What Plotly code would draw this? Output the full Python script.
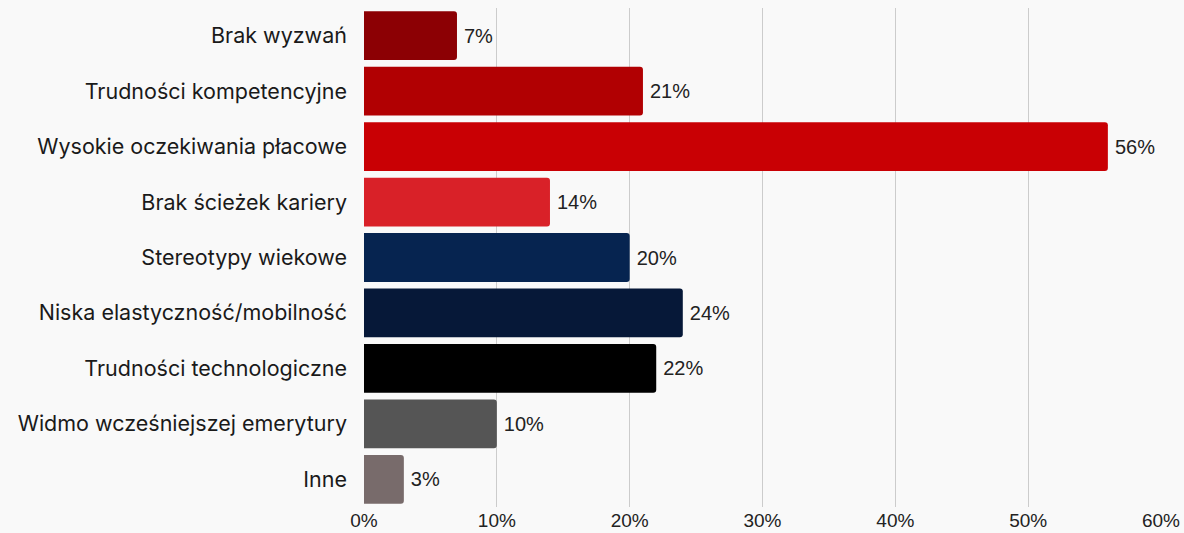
import plotly.graph_objects as go

categories = [
    "Brak wyzwań",
    "Trudności kompetencyjne",
    "Wysokie oczekiwania płacowe",
    "Brak ścieżek kariery",
    "Stereotypy wiekowe",
    "Niska elastyczność/mobilność",
    "Trudności technologiczne",
    "Widmo wcześniejszej emerytury",
    "Inne",
]
values = [7, 21, 56, 14, 20, 24, 22, 10, 3]
colors = [
    "#8c0004", "#b10002", "#c90004", "#d92128", "#062450",
    "#061838", "#000000", "#555555", "#786b6b",
]
tick_vals = [0, 10, 20, 30, 40, 50, 60]
tick_text = [f"{v}%" for v in tick_vals]

fig = go.Figure(
    go.Bar(
        x=values,
        y=categories,
        orientation="h",
        marker=dict(color=colors, line=dict(width=0)),
        text=[f"\u2009{v}%" for v in values],
        textposition="outside",
        cliponaxis=False,
        textfont=dict(family="Liberation Sans, Arial, sans-serif", size=20, color="#222222"),
    )
)

fig.update_layout(
    width=1184,
    height=533,
    margin=dict(l=364, r=23, t=8, b=26),
    paper_bgcolor="#f9f9f9",
    plot_bgcolor="#f9f9f9",
    bargap=0.12,
    barcornerradius=3,
    showlegend=False,
)

fig.update_xaxes(
    range=[0, 60],
    tickvals=tick_vals,
    ticktext=tick_text,
    showgrid=True,
    gridcolor="#cccccc",
    gridwidth=1,
    zeroline=False,
    showline=False,
    automargin=False,
    ticklabelstandoff=0,
    tickfont=dict(family="Liberation Sans, Arial, sans-serif", size=19, color="#222222"),
)

fig.update_yaxes(
    categoryorder="array",
    categoryarray=categories,
    autorange="reversed",
    showgrid=False,
    showline=False,
    automargin=False,
    ticklabelstandoff=16,
    tickfont=dict(family="Inter", size=21.5, color="#1a1a1a"),
)

fig.write_html("out.html")
